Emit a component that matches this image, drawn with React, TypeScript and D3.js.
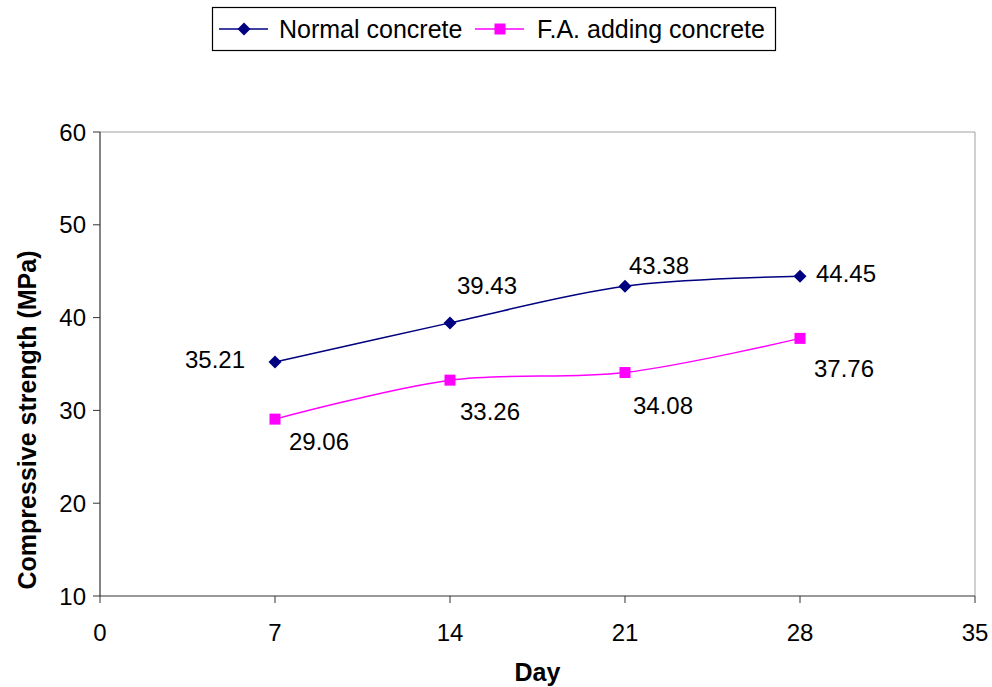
import React from "react";
import * as d3 from "d3";

const days = [7, 14, 21, 28];
const normalValues = [35.21, 39.43, 43.38, 44.45];
const faValues = [29.06, 33.26, 34.08, 37.76];
const xTicks = [0, 7, 14, 21, 28, 35];
const yTicks = [10, 20, 30, 40, 50, 60];
const seriesNames = ["Normal concrete", "F.A. adding concrete"];
// label offsets (layout) relative to each point
const normalLabelOffsets: [number, number][] = [[-60, -3], [37, -38], [34, -21], [46, -3]];
const faLabelOffsets: [number, number][] = [[44, 22], [40, 31], [38, 33], [44, 30]];

const W = 992, H = 687;
const left = 100, right = 975, top = 132, bottom = 596;
const FONT = "Liberation Sans, Arial, sans-serif";

export default function App() {
  const x = d3.scaleLinear().domain([0, 35]).range([left, right]);
  const y = d3.scaleLinear().domain([10, 60]).range([bottom, top]);
  const line = d3.line<number>()
    .x((_, i) => x(days[i]))
    .y((d) => y(d))
    .curve(d3.curveCardinal.tension(0));

  const diamond = (cx: number, cy: number, r = 6.5, key?: any) => (
    <path key={key} d={`M${cx},${cy - r}L${cx + r},${cy}L${cx},${cy + r}L${cx - r},${cy}Z`} fill="#000080" />
  );
  const square = (cx: number, cy: number, s = 10, key?: any) => (
    <rect key={key} x={cx - s / 2} y={cy - s / 2} width={s} height={s} fill="#FF00FF" />
  );

  return (
    <svg width={W} height={H} style={{ position: "absolute", left: 0, top: 0, background: "#fff" }} fontFamily={FONT}>
      <rect x={0} y={0} width={W} height={H} fill="#fff" />
      {/* plot border */}
      <line x1={left} y1={top} x2={right} y2={top} stroke="#a0a0a0" strokeWidth={1} />
      <line x1={right} y1={top} x2={right} y2={bottom} stroke="#a0a0a0" strokeWidth={1} />
      <line x1={left} y1={top} x2={left} y2={bottom} stroke="#333" strokeWidth={1.2} />
      <line x1={left} y1={bottom} x2={right} y2={bottom} stroke="#333" strokeWidth={1.2} />
      {yTicks.map((t) => (
        <g key={"y" + t}>
          <line x1={left - 7} x2={left} y1={y(t)} y2={y(t)} stroke="#333" />
          <text x={left - 14} y={y(t)} dy="0.36em" textAnchor="end" fontSize={24} fill="#000">{t}</text>
        </g>
      ))}
      {xTicks.map((t) => (
        <g key={"x" + t}>
          <line x1={x(t)} x2={x(t)} y1={bottom} y2={bottom + 7} stroke="#333" />
          <text x={x(t)} y={bottom + 45} textAnchor="middle" fontSize={24} fill="#000">{t}</text>
        </g>
      ))}
      <text x={537.5} y={681} textAnchor="middle" fontSize={25} fontWeight="bold">Day</text>
      <text transform={`translate(36,${420}) rotate(-90)`} textAnchor="middle" fontSize={25} fontWeight="bold">Compressive strength (MPa)</text>

      <path d={line(normalValues) || ""} fill="none" stroke="#000080" strokeWidth={1.5} />
      <path d={line(faValues) || ""} fill="none" stroke="#FF00FF" strokeWidth={1.5} />
      {normalValues.map((v, i) => diamond(x(days[i]), y(v), 6.5, "nd" + i))}
      {faValues.map((v, i) => square(x(days[i]), y(v), 11, "fs" + i))}
      {normalValues.map((v, i) => (
        <text key={"nl" + i} x={x(days[i]) + normalLabelOffsets[i][0]} y={y(v) + normalLabelOffsets[i][1]} dy="0.36em" textAnchor="middle" fontSize={24}>{v.toFixed(2)}</text>
      ))}
      {faValues.map((v, i) => (
        <text key={"fl" + i} x={x(days[i]) + faLabelOffsets[i][0]} y={y(v) + faLabelOffsets[i][1]} dy="0.36em" textAnchor="middle" fontSize={24}>{v.toFixed(2)}</text>
      ))}

      {/* legend */}
      <rect x={212.5} y={7.5} width={563} height={43} fill="#fff" stroke="#000" strokeWidth={1.2} />
      <line x1={219} x2={268} y1={29} y2={29} stroke="#000080" strokeWidth={1.5} />
      {diamond(244, 29, 6.5)}
      <text x={279} y={29} dy="0.36em" fontSize={25}>{seriesNames[0]}</text>
      <line x1={475} x2={524} y1={29} y2={29} stroke="#FF00FF" strokeWidth={1.5} />
      {square(500, 29, 11)}
      <text x={537} y={29} dy="0.36em" fontSize={25}>{seriesNames[1]}</text>
    </svg>
  );
}
